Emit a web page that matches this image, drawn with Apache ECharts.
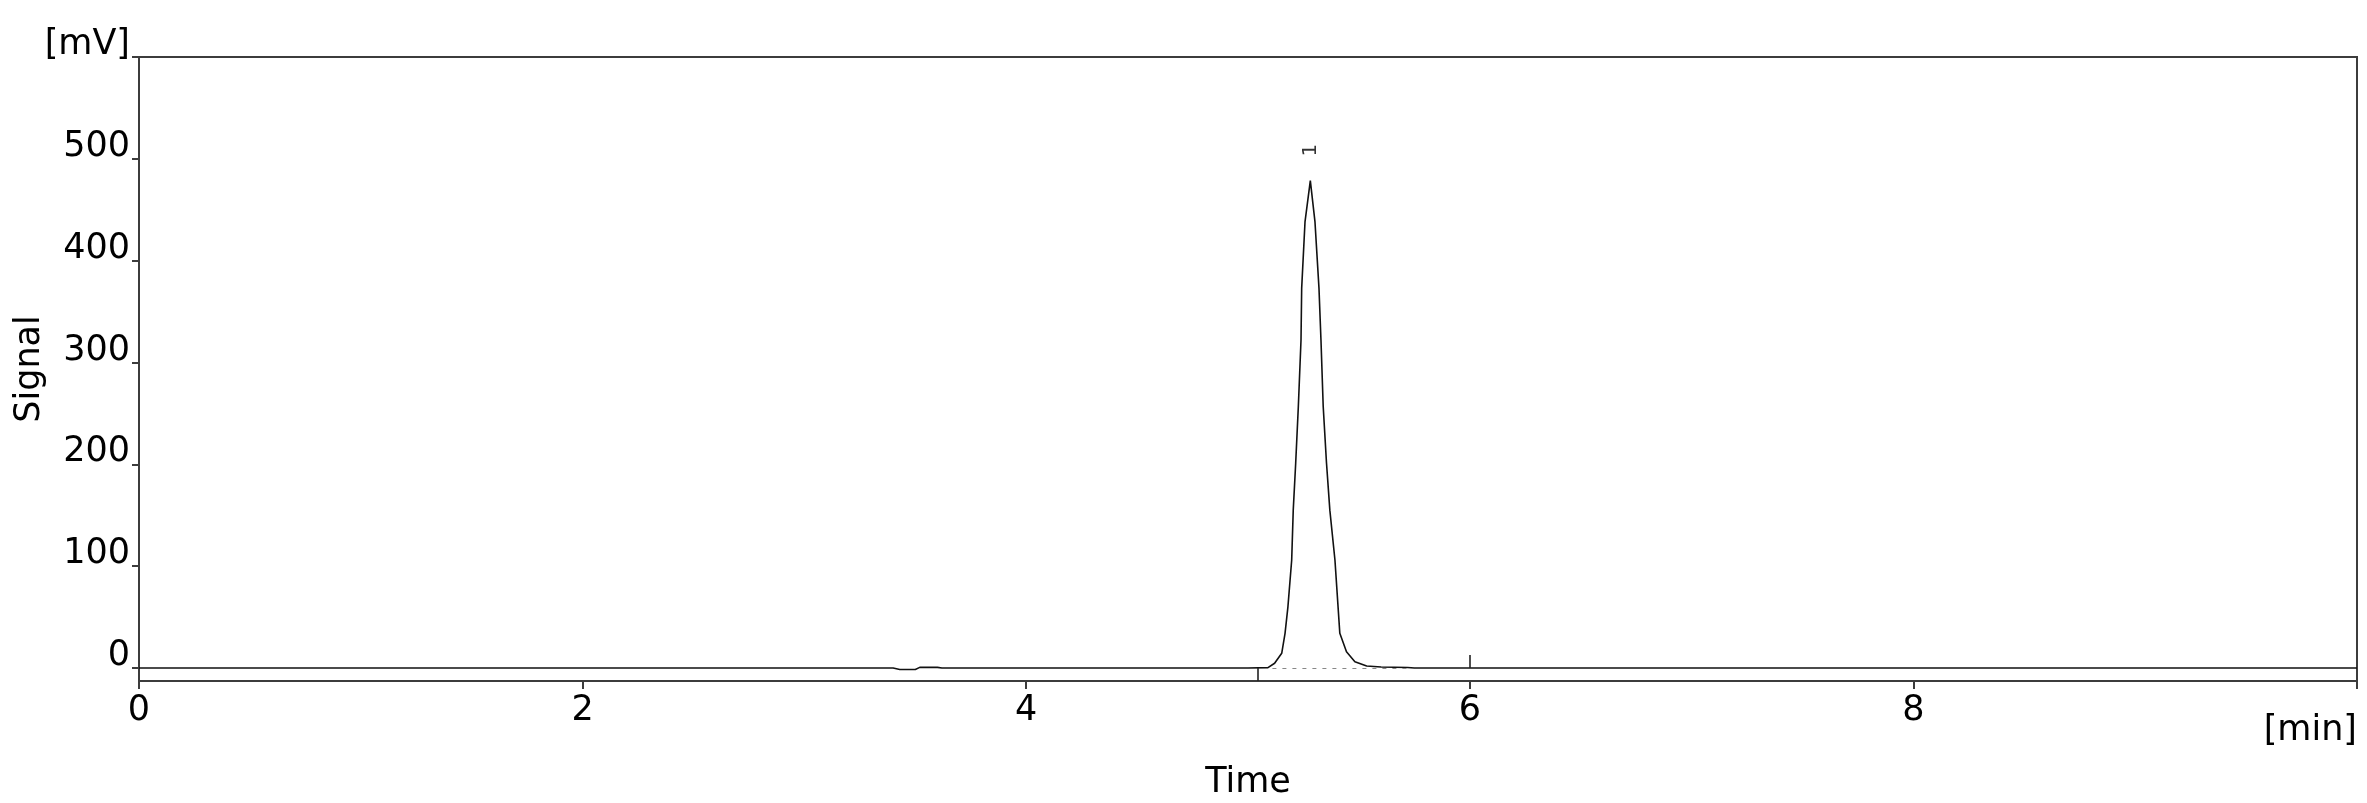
<!DOCTYPE html>
<html>
<head>
<meta charset="utf-8">
<script src="https://cdn.jsdelivr.net/npm/echarts@6/dist/echarts.min.js"></script>
<style>
html,body{margin:0;padding:0;background:#fff;}
#chart{width:2367px;height:803px;}
</style>
</head>
<body>
<div id="chart"></div>
<script>
// ---- data (time in min, signal in mV) ----
const times = [0, 3.40, 3.43, 3.50, 3.52, 3.60, 3.62, 5.00, 5.09, 5.12, 5.152, 5.167, 5.18, 5.197, 5.204, 5.215, 5.227, 5.239, 5.242, 5.257, 5.281, 5.302, 5.320, 5.329, 5.339, 5.354, 5.369, 5.392, 5.414, 5.444, 5.482, 5.535, 5.60, 5.72, 5.75, 10];
const signal = [0, 0, -1.5, -1.5, 0.6, 0.6, 0, 0, 0.3, 4.6, 14.4, 34, 60, 106, 155, 201, 257, 322, 373, 438, 478.6, 438, 373, 322, 257, 201, 155, 106, 34, 16, 6.2, 2, 1, 0.5, 0, 0];
const peakNames = ['1'];
const peakTimes = [5.281];
const peakHeights = [478.6];
const integrationStart = 5.045;
const eventMarker = 6.0;
const baselineFrom = 5.11, baselineTo = 5.72;
const yTicks = [0, 100, 200, 300, 400, 500, 600];
const yTickLabels = ['0', '100', '200', '300', '400', '500', '[mV]'];
const xTicks = [0, 2, 4, 6, 8, 10];
const xTickLabels = ['0', '2', '4', '6', '8', ''];
const yMin = -12.8, yMax = 600, xMin = 0, xMax = 10;

const FONT = "'DejaVu Sans', sans-serif";
const FS = 35;

const chart = echarts.init(document.getElementById('chart'));
chart.setOption({
  animation: false,
  backgroundColor: '#fff',
  grid: {left: 139, top: 57, right: 10, bottom: 122, containLabel: false, outerBoundsMode: 'none', show: true, borderColor: '#3c3c3c', borderWidth: 2, backgroundColor: 'transparent'},
  xAxis: {
    type: 'value', min: xMin, max: xMax,
    axisLine: {show: true, onZero: false, lineStyle: {color: '#3c3c3c', width: 2}},
    axisTick: {show: true, customValues: xTicks, length: 8, lineStyle: {color: '#3c3c3c', width: 2}},
    axisLabel: {customValues: xTicks, formatter: v => xTickLabels[xTicks.indexOf(v)] ?? '', fontSize: FS, color: '#000', fontFamily: FONT, margin: 12},
    splitLine: {show: false},
    name: 'Time', nameLocation: 'middle', nameGap: 84, nameMoveOverlap: false,
    nameTextStyle: {fontSize: FS, color: '#000', fontFamily: FONT}
  },
  yAxis: {
    type: 'value', min: yMin, max: yMax,
    axisLine: {show: true, onZero: false, lineStyle: {color: '#3c3c3c', width: 2}},
    axisTick: {show: true, customValues: yTicks, length: 7, lineStyle: {color: '#3c3c3c', width: 2}},
    axisLabel: {customValues: yTicks, formatter: v => yTickLabels[yTicks.indexOf(v)] ?? '', fontSize: FS, color: '#000', fontFamily: FONT, margin: 9, verticalAlign: 'bottom', lineHeight: 36, padding: [0, 0, -6, 0]},
    splitLine: {show: false},
    name: 'Signal', nameLocation: 'middle', nameGap: 92, nameMoveOverlap: false,
    nameTextStyle: {fontSize: FS, color: '#000', fontFamily: FONT}
  },
  graphic: [{
    type: 'text', right: 10, top: 713,
    style: {text: '[min]', fill: '#000', font: FS + "px " + FONT}
  }],
  series: [{
    type: 'line', data: times.map((t, i) => [t, signal[i]]), showSymbol: false, symbol: 'none',
    lineStyle: {color: '#111', width: 1.6},
    markLine: {
      silent: true, symbol: 'none', label: {show: false},
      data: [
        [{coord: [integrationStart, 0], lineStyle: {color: '#222', width: 1.6, type: 'solid'}}, {coord: [integrationStart, yMin]}],
        [{coord: [eventMarker, 0], lineStyle: {color: '#222', width: 1.6, type: 'solid'}}, {coord: [eventMarker, 12.8]}],
        [{coord: [baselineFrom, 0], lineStyle: {color: '#888', width: 1.2, type: [4, 6]}}, {coord: [baselineTo, 0]}]
      ]
    },
    z: 3
  }, {
    type: 'scatter', symbolSize: 1, itemStyle: {color: 'transparent'},
    data: peakTimes.map((t, i) => ({value: [t, peakHeights[i]], name: peakNames[i]})),
    label: {show: true, formatter: p => p.name, rotate: 90, position: 'top', distance: 30, align: 'center', verticalAlign: 'middle', fontSize: 20, color: '#000', fontFamily: FONT},
    silent: true, z: 4
  }]
});
</script>
</body>
</html>
